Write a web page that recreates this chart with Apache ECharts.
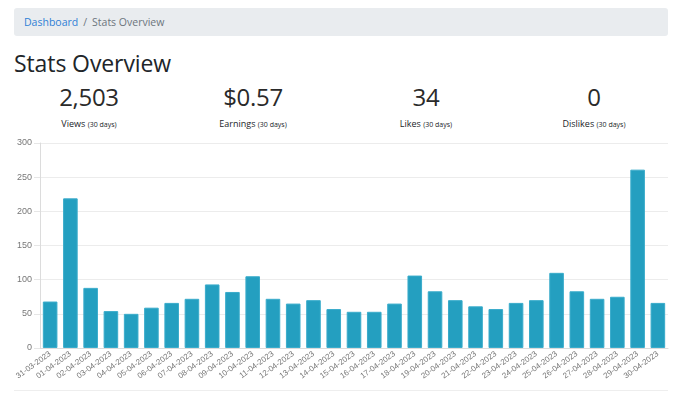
<!DOCTYPE html>
<html>
<head>
<meta charset="utf-8">
<script src="https://cdn.jsdelivr.net/npm/echarts@6/dist/echarts.min.js"></script>
<style>
  body { margin: 0; width: 682px; height: 402px; background: #fff; font-family: "Open Sans", "Noto Sans", sans-serif; color: #212529; position: relative; overflow: hidden; }
  .crumb { position: absolute; left: 14px; top: 8px; width: 654px; height: 28px; background: #e9ecef; border-radius: 3px; font-size: 10.5px; line-height: 28px; }
  .crumb a { color: #2f7fd6; text-decoration: none; margin-left: 10px; }
  .crumb .sep { color: #6c757d; margin: 0 5px; }
  .crumb .cur { color: #6c757d; }
  h1 { position: absolute; left: 14px; top: 45px; margin: 0; font-weight: 400; font-size: 23px; line-height: 36px; letter-spacing: -0.1px; }
  .stat { position: absolute; top: 80px; width: 160px; margin-left: -80px; text-align: center; }
  .stat .val { font-size: 24px; line-height: 34px; font-weight: 400; letter-spacing: -0.3px; color: #2a2a2a; }
  .stat .lbl { font-size: 9px; line-height: 14px; margin-top: 3px; }
  .stat .lbl small { font-size: 7px; }
  .hr { position: absolute; left: 14px; top: 390px; width: 654px; height: 1px; background: #eeeeee; }
  #chart { position: absolute; left: 0; top: 135px; width: 682px; height: 265px; }
</style>
</head>
<body>
<div class="crumb"><a href="#">Dashboard</a><span class="sep">/</span><span class="cur">Stats Overview</span></div>
<h1>Stats Overview</h1>
<div id="stats"></div>
<div id="chart"></div>
<div class="hr"></div>
<script>
const statValues = ['2,503', '$0.57', '34', '0'];
const statLabels = ['Views', 'Earnings', 'Likes', 'Dislikes'];
const statCenters = [89, 253, 426, 594];

const dates = ['31-03-2023', '01-04-2023', '02-04-2023', '03-04-2023', '04-04-2023', '05-04-2023',
  '06-04-2023', '07-04-2023', '08-04-2023', '09-04-2023', '10-04-2023', '11-04-2023', '12-04-2023',
  '13-04-2023', '14-04-2023', '15-04-2023', '16-04-2023', '17-04-2023', '18-04-2023', '19-04-2023',
  '20-04-2023', '21-04-2023', '22-04-2023', '23-04-2023', '24-04-2023', '25-04-2023', '26-04-2023',
  '27-04-2023', '28-04-2023', '29-04-2023', '30-04-2023'];
const views = [68, 219, 88, 54, 50, 59, 66, 72, 93, 82, 105, 72, 65, 70, 57,
  53, 53, 65, 106, 83, 70, 61, 57, 66, 70, 110, 83, 72, 75, 261, 66];

const statsBox = document.getElementById('stats');
statValues.forEach(function (v, i) {
  const d = document.createElement('div');
  d.className = 'stat';
  d.style.left = statCenters[i] + 'px';
  d.innerHTML = '<div class="val">' + v + '</div><div class="lbl">' + statLabels[i] + ' <small>(30 days)</small></div>';
  statsBox.appendChild(d);
});

const myChart = echarts.init(document.getElementById('chart'));
myChart.setOption({
  animation: false,
  grid: { left: 40, right: 14, top: 8, bottom: 52 },
  xAxis: {
    type: 'category',
    data: dates,
    axisLine: { lineStyle: { color: '#dcdcdc' } },
    axisTick: { show: false },
    axisLabel: {
      interval: 0, rotate: 36, color: '#777', fontSize: 8,
      fontFamily: 'Liberation Sans', margin: 5
    }
  },
  yAxis: {
    type: 'value',
    min: 0, max: 300, interval: 50,
    axisLine: { show: true, lineStyle: { color: '#dcdcdc' } },
    axisTick: { show: true, length: 6, lineStyle: { color: '#e6e6e6' } },
    axisLabel: { color: '#777', fontSize: 9, fontFamily: 'Liberation Sans', margin: 8 },
    splitLine: { lineStyle: { color: '#ececec' } }
  },
  series: [{
    type: 'bar',
    data: views,
    barWidth: '72%',
    itemStyle: { color: '#249fc0', borderColor: '#3aaccb', borderWidth: 1 }
  }]
});
</script>
</body>
</html>
